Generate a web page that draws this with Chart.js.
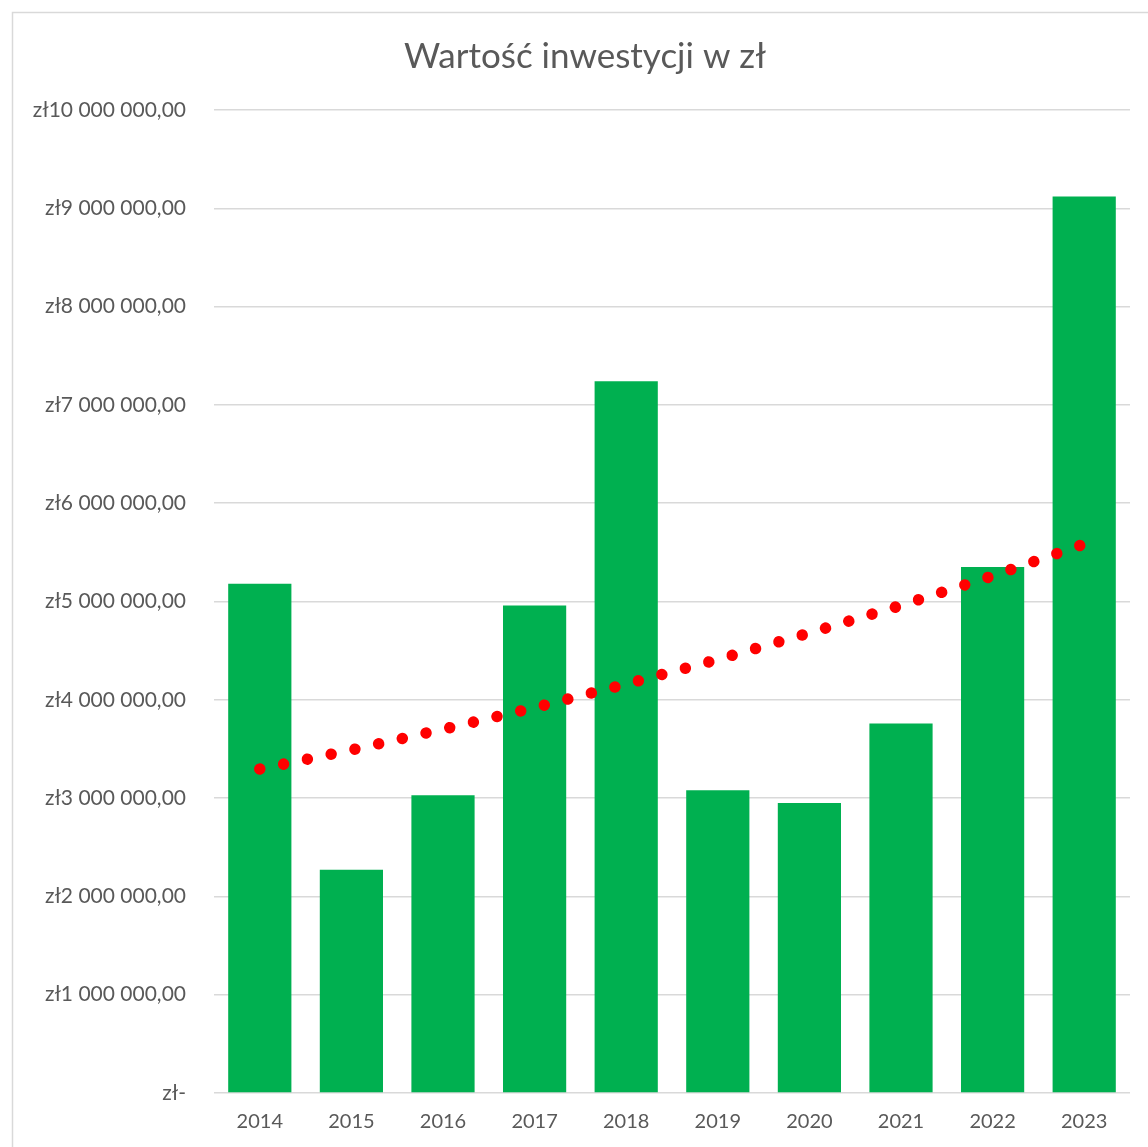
<!DOCTYPE html>
<html>
<head>
<meta charset="utf-8">
<script src="https://cdn.jsdelivr.net/npm/chart.js@4"></script>
<style>
  html, body { margin: 0; padding: 0; background: #fff; }
  #wrap { position: relative; width: 1148px; height: 1147px; }
</style>
</head>
<body>
<div id="wrap"><canvas id="chart" width="1148" height="1147"></canvas></div>
<script>
const years = ["2014", "2015", "2016", "2017", "2018", "2019", "2020", "2021", "2022", "2023"];
const investment = [5180000, 2270000, 3030000, 4960000, 7240000, 3080000, 2950000, 3760000, 5350000, 9120000];
// exponential trend
const trend = [3295000, 3490000, 3700000, 3920000, 4160000, 4410000, 4680000, 4960000, 5260000, 5585000];
const chartTitle = "Wartość inwestycji w zł";

const fontFamily = "Lato, 'Open Sans', sans-serif";
const textColor = "#595959";

const formatZl = (v) => {
  if (v === 0) return "zł-";
  return "zł" + String(v).replace(/\B(?=(\d{3})+(?!\d))/g, " ") + ",00";
};

// light frame around the chart + title (the original frame is wider than the picture,
// so the title sits a bit right of the canvas centre)
const framePlugin = {
  id: "frame",
  beforeDraw(chart) {
    const ctx = chart.ctx;
    ctx.save();
    ctx.fillStyle = "#fff";
    ctx.fillRect(0, 0, chart.width, chart.height);
    ctx.strokeStyle = "#d9d9d9";
    ctx.lineWidth = 1.5;
    ctx.strokeRect(12.5, 12.5, chart.width + 10, chart.height + 10);
    ctx.restore();
  },
  afterDraw(chart) {
    const ctx = chart.ctx;
    ctx.save();
    ctx.fillStyle = textColor;
    ctx.font = "35px " + fontFamily;
    ctx.textAlign = "center";
    ctx.textBaseline = "middle";
    ctx.fillText(chartTitle, 585, 57);
    ctx.restore();
  }
};

new Chart(document.getElementById("chart"), {
  type: "bar",
  data: {
    labels: years,
    datasets: [
      {
        type: "line",
        data: trend,
        borderColor: "#ff0000",
        borderWidth: 11.5,
        borderCapStyle: "round",
        borderDash: [0.001, 24.3],
        pointRadius: 0,
        tension: 0,
        fill: false,
        order: 0
      },
      {
        data: investment,
        backgroundColor: "#00b050",
        barPercentage: 0.69,
        categoryPercentage: 1,
        order: 1
      }
    ]
  },
  options: {
    responsive: false,
    animation: false,
    layout: { padding: { left: 0, right: 18, top: 110, bottom: 0 } },
    plugins: {
      legend: { display: false },
      tooltip: { enabled: false },
      title: { display: false }
    },
    scales: {
      x: {
        afterFit(scale) { scale.height = 54; },
        grid: { display: false, drawTicks: false },
        border: { display: false },
        ticks: {
          color: textColor,
          padding: 17,
          font: { family: fontFamily, size: 20 }
        }
      },
      y: {
        min: 0,
        max: 10000000,
        afterFit(scale) { scale.width = 214; },
        grid: { color: "#d9d9d9", lineWidth: 1.5, drawTicks: false },
        border: { display: false },
        ticks: {
          stepSize: 1000000,
          color: textColor,
          padding: 28,
          font: { family: fontFamily, size: 21 },
          callback: (v) => formatZl(v)
        }
      }
    }
  },
  plugins: [framePlugin]
});
</script>
</body>
</html>
